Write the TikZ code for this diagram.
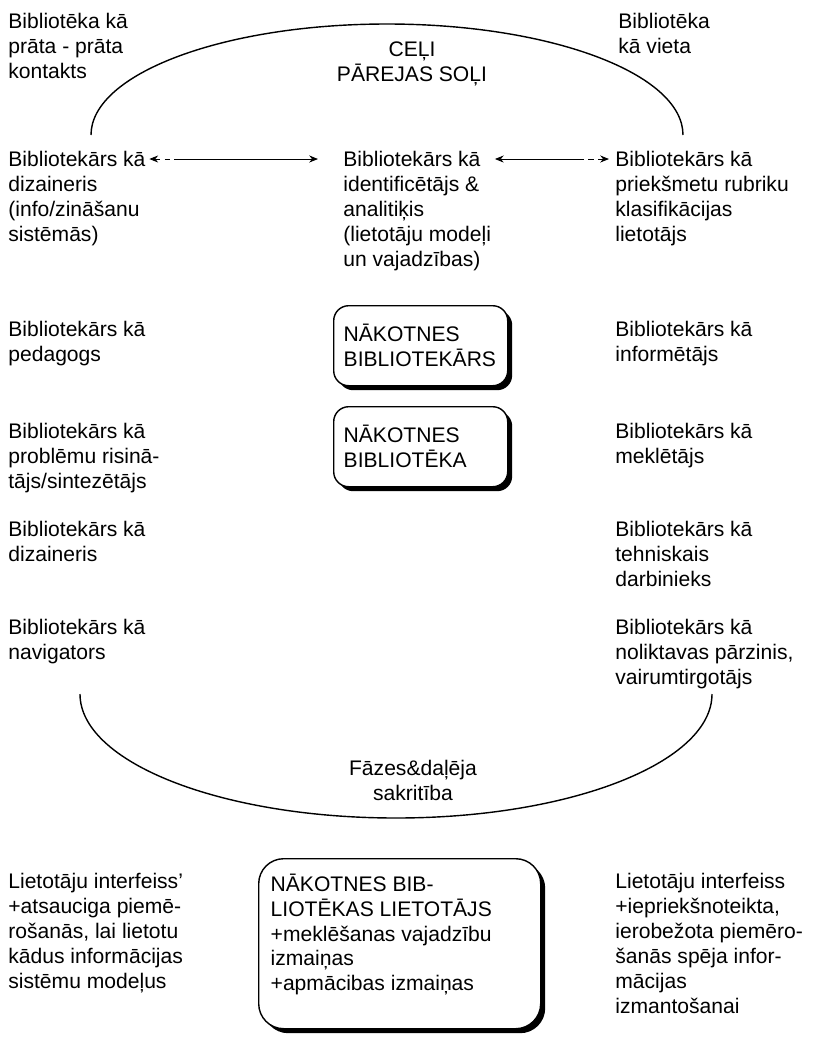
\documentclass[tikz,border=0pt]{standalone}
\usepackage{fontspec}
\setmainfont{Liberation Sans}
\usepackage{tikz}
\usetikzlibrary{arrows.meta, shadows}
\newcommand{\lvtext}{\fontsize{12pt}{14.2pt}\selectfont}
\tikzset{
  role/.style={anchor=north west, align=left, inner sep=0pt, font=\lvtext},
  title/.style={anchor=north, align=center, inner sep=0pt, font=\lvtext},
  futurebox/.style={rectangle, draw, fill=white, anchor=north west, align=left,
    text width=3.08cm, minimum height=1.6cm, inner xsep=0.2cm,
    rounded corners=0.3cm, line width=0.8pt, font=\lvtext,
    drop shadow={shadow xshift=0.09cm, shadow yshift=-0.09cm, fill=black, opacity=1}},
  userbox/.style={futurebox, text width=, inner xsep=0.24cm, inner ysep=0.3cm,
    rounded corners=0.5cm},
  twoway/.style={{Stealth[length=5pt,width=4pt]}-{Stealth[length=5pt,width=4pt]},
    line width=0.5pt, dash pattern=on 3pt off 2.5pt on 3pt off 2.5pt on 400pt off 1pt},
  bracket/.style={line width=0.8pt}
}

\begin{document}
\begin{tikzpicture}
  \useasboundingbox (0,0) rectangle (16.48,-21);

  % Top: library roles and transitions
  \node[role] (libmind) at (0.16,-0.26) {Bibliotēka kā\\prāta - prāta\\kontakts};
  \node[title] (paths) at (8.24,-0.82) {CEĻI\\PĀREJAS SOĻI};
  \node[role] (libplace) at (12.36,-0.26) {Bibliotēka\\kā vieta};

  % Librarian roles, first row
  \node[role] (designer) at (0.16,-3.02) {Bibliotekārs kā\\dizaineris\\(info/zināšanu\\sistēmās)};
  \node[role] (analyst) at (6.86,-3.02) {Bibliotekārs kā\\identificētājs \&\\analitiķis\\(lietotāju modeļi\\un vajadzības)};
  \node[role] (classer) at (12.30,-3.02) {Bibliotekārs kā\\priekšmetu rubriku\\klasifikācijas\\lietotājs};

  % Future librarian and library
  \node[role] (pedagog) at (0.16,-6.42) {Bibliotekārs kā\\pedagogs};
  \node[futurebox] (librarian) at (6.66,-6.10) {NĀKOTNES\\BIBLIOTEKĀRS};
  \node[role] (informer) at (12.30,-6.42) {Bibliotekārs kā\\informētājs};

  \node[role] (solver) at (0.16,-8.46) {Bibliotekārs kā\\problēmu risinā-\\tājs/sintezētājs};
  \node[futurebox] (library) at (6.66,-8.12) {NĀKOTNES\\BIBLIOTĒKA};
  \node[role] (seeker) at (12.30,-8.46) {Bibliotekārs kā\\meklētājs};

  \node[role] (designer2) at (0.16,-10.42) {Bibliotekārs kā\\dizaineris};
  \node[role] (technician) at (12.30,-10.42) {Bibliotekārs kā\\tehniskais\\darbinieks};

  \node[role] (navigator) at (0.16,-12.38) {Bibliotekārs kā\\navigators};
  \node[role] (keeper) at (12.30,-12.38) {Bibliotekārs kā\\noliktavas pārzinis,\\vairumtirgotājs};

  \node[title] (phases) at (8.26,-15.20) {Fāzes\&daļēja\\sakritība};

  % Bottom: users and interfaces
  \node[role] (uileft) at (0.16,-17.46) {Lietotāju interfeiss'\\+atsauciga piemē-\\rošanās, lai lietotu\\kādus informācijas\\sistēmu modeļus};
  \node[userbox] (user) at (5.16,-17.16) {\parbox[t][2.8cm][t]{5.16cm}{\raggedright
    NĀKOTNES BIB-\\LIOTĒKAS LIETOTĀJS\\+meklēšanas vajadzību\\izmaiņas\\+apmācibas izmaiņas}};
  \node[role] (uiright) at (12.30,-17.46) {Lietotāju interfeiss\\+iepriekšnoteikta,\\ierobežota piemēro-\\šanās spēja infor-\\mācijas\\izmantošanai};

  % Arrows between roles
  \draw[twoway, shorten <=2pt, shorten >=0.5cm] ([yshift=-0.16cm]designer.north east) -- ([yshift=-0.16cm]analyst.north west);
  \draw[twoway, shorten <=0.12cm, shorten >=2pt] ([yshift=-0.16cm]classer.north west) -- ([yshift=-0.16cm]analyst.north east);

  % Brackets
  \draw[bracket] (1.82,-2.70) arc[start angle=180, end angle=0, x radius=5.92cm, y radius=2.22cm];
  \draw[bracket] (1.60,-13.88) arc[start angle=180, end angle=360, x radius=6.32cm, y radius=2.48cm];
\end{tikzpicture}
\end{document}
